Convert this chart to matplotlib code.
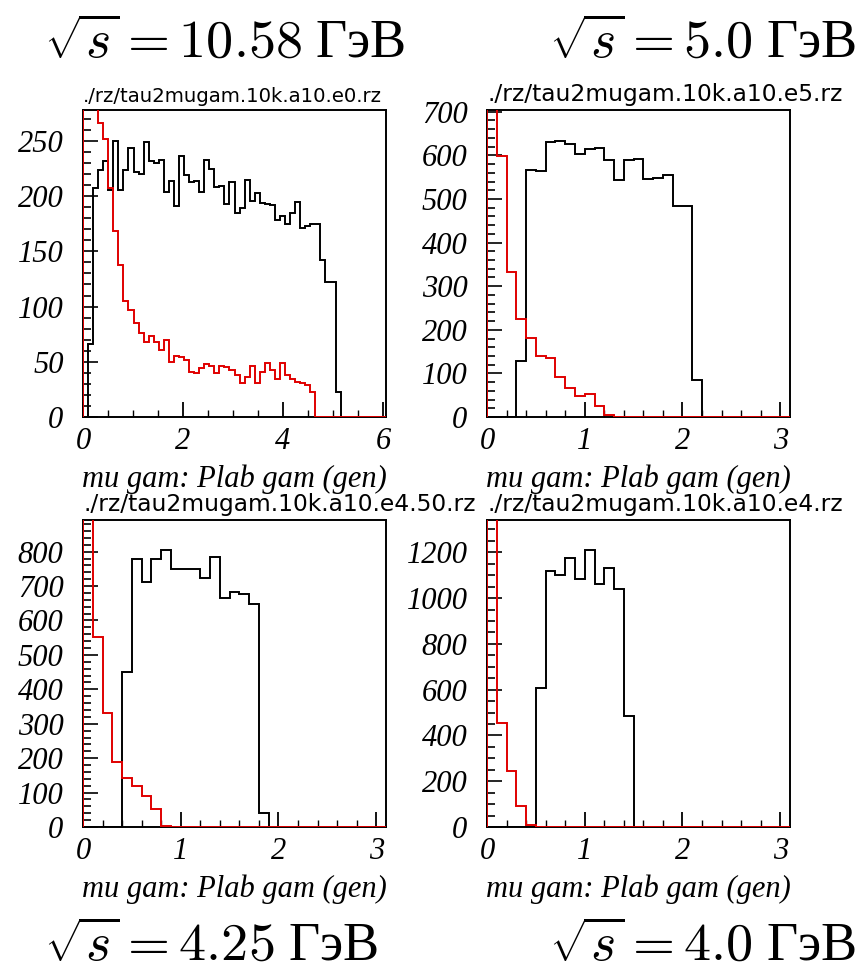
import matplotlib
matplotlib.use('Agg')
import matplotlib.pyplot as plt
from matplotlib.ticker import MultipleLocator

plt.rcParams['mathtext.fontset'] = 'cm'

# ---- data (bin contents, 0.1 GeV bins) ----
xlabel = 'mu gam: Plab gam (gen)'

# sqrt(s) = 10.58 GeV  (60 bins over 0 .. 6.06)
title_e0 = './rz/tau2mugam.10k.a10.e0.rz'
black_e0 = [0, 66, 207, 224, 232, 206, 250, 206, 224, 244,
            222, 220, 249, 232, 230, 233, 204, 214, 191, 236,
            219, 213, 214, 204, 233, 225, 208, 209, 193, 213,
            185, 189, 215, 196, 203, 194, 193, 192, 178, 182,
            175, 185, 195, 171, 173, 175, 175, 142, 122, 122,
            23]
red_e0 = [400, 340, 300, 266, 252, 207, 168, 138, 105, 97,
          85, 76, 68, 73, 68, 61, 70, 50, 55, 54,
          52, 41, 40, 44, 48, 46, 40, 46, 45, 43,
          38, 31, 36, 46, 31, 41, 49, 43, 34, 49,
          38, 34, 32, 31, 29, 23]

# sqrt(s) = 5.0 GeV
title_e5 = './rz/tau2mugam.10k.a10.e5.rz'
black_e5 = [0, 0, 0, 129, 566, 564, 630, 634, 626, 603,
            614, 616, 589, 544, 589, 592, 546, 549, 555, 485,
            484, 84]
red_e5 = [900, 598, 332, 225, 182, 139, 135, 92, 66, 49,
          53, 26, 5]

# sqrt(s) = 4.25 GeV
title_e450 = './rz/tau2mugam.10k.a10.e4.50.rz'
black_e450 = [0, 0, 0, 0, 450, 778, 711, 780, 805, 750,
              751, 751, 724, 785, 664, 684, 676, 647, 41]
red_e450 = [1200, 551, 331, 188, 142, 120, 91, 52, 4]

# sqrt(s) = 4.0 GeV
title_e4 = './rz/tau2mugam.10k.a10.e4.rz'
black_e4 = [0, 0, 0, 0, 0, 607, 1119, 1101, 1174, 1082,
            1210, 1060, 1130, 1039, 483]
red_e4 = [1800, 454, 243, 90, 8]

captions = [r'$\sqrt{s} = 10.58\;$ГэВ', r'$\sqrt{s} = 5.0\;$ГэВ',
            r'$\sqrt{s} = 4.25\;$ГэВ', r'$\sqrt{s} = 4.0\;$ГэВ']

W, H = 859, 972
fig = plt.figure(figsize=(W / 100, H / 100), dpi=100)

serif_it = dict(family='Liberation Serif', style='italic')


def draw_panel(left_px, top_px, title, black, red, binw, nbins, ymax,
               xmaj, xmin, ymaj, ymin, title_size):
    ax = fig.add_axes([left_px / W, 1 - (top_px + 307) / H, 303 / W, 307 / H])
    edges = [i * binw for i in range(nbins + 1)]
    b = black + [0] * (nbins - len(black))
    r = red + [0] * (nbins - len(red))
    ax.stairs(b, edges, baseline=0, color='black', lw=1.4, zorder=3)
    ax.stairs(r, edges, baseline=0, color='#e00000', lw=1.4, zorder=4)
    ax.set_xlim(0, nbins * binw)
    ax.set_ylim(0, ymax)
    for s in ax.spines.values():
        s.set_linewidth(1.4)
    ax.xaxis.set_major_locator(MultipleLocator(xmaj))
    ax.xaxis.set_minor_locator(MultipleLocator(xmin))
    ax.yaxis.set_major_locator(MultipleLocator(ymaj))
    ax.yaxis.set_minor_locator(MultipleLocator(ymin))
    ax.tick_params(which='both', direction='in', top=False, right=False)
    ax.tick_params(axis='x', which='major', length=11, width=1.3, pad=7)
    ax.tick_params(axis='x', which='minor', length=5, width=1.0)
    ax.tick_params(axis='y', which='major', length=11, width=1.2, pad=14)
    ax.tick_params(axis='y', which='minor', length=6, width=1.2)
    for lab in ax.get_xticklabels() + ax.get_yticklabels():
        lab.set_fontfamily('Liberation Serif')
        lab.set_fontstyle('italic')
        lab.set_fontsize(22)
    ax.text(0.0, 1.012, title, transform=ax.transAxes, ha='left', va='bottom',
            family='DejaVu Sans', fontsize=title_size, color='black')
    ax.text(0.5, -0.228, xlabel, transform=ax.transAxes, ha='center',
            va='baseline', fontsize=22, **serif_it)
    return ax


draw_panel(83, 110, title_e0, black_e0, red_e0, 0.101, 60, 278,
           2, 0.5, 50, 10, 14.2)
draw_panel(487, 110, title_e5, black_e5, red_e5, 0.1, 31, 704,
           1, 0.2, 100, 20, 16.8)
draw_panel(83, 520, title_e450, black_e450, red_e450, 0.1, 31, 892,
           1, 0.2, 100, 20, 16.8)
draw_panel(487, 520, title_e4, black_e4, red_e4, 0.1, 31, 1341,
           1, 0.2, 200, 50, 16.8)

cap_kw = dict(family='Liberation Serif', fontsize=39, va='baseline')
fig.text(44 / W, 1 - 57 / H, captions[0], ha='left', **cap_kw)
fig.text(856 / W, 1 - 57 / H, captions[1], ha='right', **cap_kw)
fig.text(44 / W, 1 - 960 / H, captions[2], ha='left', **cap_kw)
fig.text(856 / W, 1 - 960 / H, captions[3], ha='right', **cap_kw)

fig.savefig('out.png', dpi=100)
